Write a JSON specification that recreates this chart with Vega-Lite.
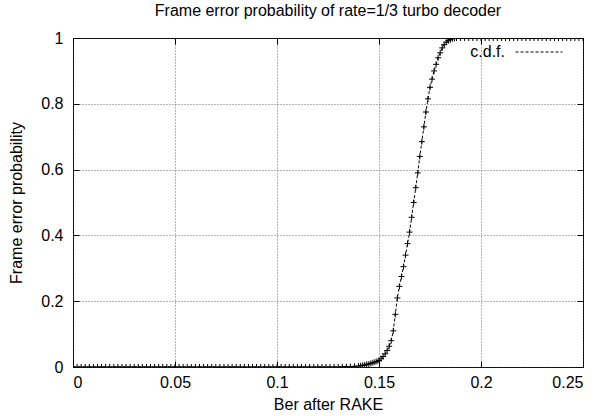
{
  "$schema": "https://vega.github.io/schema/vega-lite/v6.json",
  "width": 510,
  "height": 329,
  "autosize": {"type": "none"},
  "padding": {"left": 73, "top": 38, "right": 14, "bottom": 49},
  "background": "white",
  "title": {"text": "Frame error probability of rate=1/3 turbo decoder", "font": "Liberation Sans", "fontSize": 16, "fontWeight": "normal", "color": "black", "offset": 9, "anchor": "middle"},
  "config": {
    "view": {"stroke": "black", "strokeWidth": 1},
    "axis": {
      "labelFont": "Liberation Sans", "labelFontSize": 16, "labelColor": "black",
      "titleFont": "Liberation Sans", "titleFontSize": 16, "titleFontWeight": "normal", "titleColor": "black",
      "domain": false, "tickColor": "black", "tickSize": -6, "tickWidth": 1,
      "grid": true, "gridColor": "#444", "gridDash": [1, 2], "gridWidth": 0.8
    }
  },
  "resolve": {"axis": {"x": "independent", "y": "independent"}},
  "data": {"values": [
    {"x": 0, "y": 0}, {"x": 0.002, "y": 0}, {"x": 0.004, "y": 0}, {"x": 0.006, "y": 0}, {"x": 0.008, "y": 0},
    {"x": 0.01, "y": 0}, {"x": 0.012, "y": 0}, {"x": 0.014, "y": 0}, {"x": 0.016, "y": 0}, {"x": 0.018, "y": 0},
    {"x": 0.02, "y": 0}, {"x": 0.022, "y": 0}, {"x": 0.024, "y": 0}, {"x": 0.026, "y": 0}, {"x": 0.028, "y": 0},
    {"x": 0.03, "y": 0}, {"x": 0.032, "y": 0}, {"x": 0.034, "y": 0}, {"x": 0.036, "y": 0}, {"x": 0.038, "y": 0},
    {"x": 0.04, "y": 0}, {"x": 0.042, "y": 0}, {"x": 0.044, "y": 0}, {"x": 0.046, "y": 0}, {"x": 0.048, "y": 0},
    {"x": 0.05, "y": 0}, {"x": 0.052, "y": 0}, {"x": 0.054, "y": 0}, {"x": 0.056, "y": 0}, {"x": 0.058, "y": 0},
    {"x": 0.06, "y": 0}, {"x": 0.062, "y": 0}, {"x": 0.064, "y": 0}, {"x": 0.066, "y": 0}, {"x": 0.068, "y": 0},
    {"x": 0.07, "y": 0}, {"x": 0.072, "y": 0}, {"x": 0.074, "y": 0}, {"x": 0.076, "y": 0}, {"x": 0.078, "y": 0},
    {"x": 0.08, "y": 0}, {"x": 0.082, "y": 0}, {"x": 0.084, "y": 0}, {"x": 0.086, "y": 0}, {"x": 0.088, "y": 0},
    {"x": 0.09, "y": 0}, {"x": 0.092, "y": 0}, {"x": 0.094, "y": 0}, {"x": 0.096, "y": 0}, {"x": 0.098, "y": 0},
    {"x": 0.1, "y": 0}, {"x": 0.102, "y": 0}, {"x": 0.104, "y": 0}, {"x": 0.106, "y": 0}, {"x": 0.108, "y": 0},
    {"x": 0.11, "y": 0}, {"x": 0.112, "y": 0}, {"x": 0.114, "y": 0}, {"x": 0.116, "y": 0}, {"x": 0.118, "y": 0},
    {"x": 0.12, "y": 0}, {"x": 0.122, "y": 0}, {"x": 0.124, "y": 0}, {"x": 0.126, "y": 0}, {"x": 0.128, "y": 0},
    {"x": 0.13, "y": 0}, {"x": 0.132, "y": 0.0005}, {"x": 0.134, "y": 0.001}, {"x": 0.136, "y": 0.001}, {"x": 0.138, "y": 0.002},
    {"x": 0.14, "y": 0.003}, {"x": 0.141, "y": 0.004}, {"x": 0.142, "y": 0.005}, {"x": 0.143, "y": 0.006}, {"x": 0.144, "y": 0.008},
    {"x": 0.145, "y": 0.009}, {"x": 0.146, "y": 0.011}, {"x": 0.147, "y": 0.013}, {"x": 0.148, "y": 0.015}, {"x": 0.149, "y": 0.017},
    {"x": 0.15, "y": 0.02}, {"x": 0.151, "y": 0.025}, {"x": 0.152, "y": 0.032}, {"x": 0.153, "y": 0.04}, {"x": 0.154, "y": 0.05},
    {"x": 0.155, "y": 0.063}, {"x": 0.156, "y": 0.08}, {"x": 0.157, "y": 0.11}, {"x": 0.158, "y": 0.16}, {"x": 0.159, "y": 0.21},
    {"x": 0.16, "y": 0.245}, {"x": 0.161, "y": 0.275}, {"x": 0.162, "y": 0.305}, {"x": 0.163, "y": 0.34}, {"x": 0.164, "y": 0.375},
    {"x": 0.165, "y": 0.41}, {"x": 0.166, "y": 0.455}, {"x": 0.167, "y": 0.5}, {"x": 0.168, "y": 0.545}, {"x": 0.169, "y": 0.59},
    {"x": 0.17, "y": 0.64}, {"x": 0.171, "y": 0.685}, {"x": 0.172, "y": 0.73}, {"x": 0.173, "y": 0.775}, {"x": 0.174, "y": 0.815},
    {"x": 0.175, "y": 0.85}, {"x": 0.176, "y": 0.875}, {"x": 0.177, "y": 0.9}, {"x": 0.178, "y": 0.92}, {"x": 0.179, "y": 0.94},
    {"x": 0.18, "y": 0.955}, {"x": 0.181, "y": 0.97}, {"x": 0.182, "y": 0.98}, {"x": 0.183, "y": 0.987}, {"x": 0.184, "y": 0.992},
    {"x": 0.185, "y": 0.995}, {"x": 0.186, "y": 0.998}, {"x": 0.187, "y": 0.999}, {"x": 0.188, "y": 1}, {"x": 0.19, "y": 1},
    {"x": 0.192, "y": 1}, {"x": 0.194, "y": 1}, {"x": 0.196, "y": 1}, {"x": 0.198, "y": 1}, {"x": 0.2, "y": 1},
    {"x": 0.202, "y": 1}, {"x": 0.204, "y": 1}, {"x": 0.206, "y": 1}, {"x": 0.208, "y": 1}, {"x": 0.21, "y": 1},
    {"x": 0.212, "y": 1}, {"x": 0.214, "y": 1}, {"x": 0.216, "y": 1}, {"x": 0.218, "y": 1}, {"x": 0.22, "y": 1},
    {"x": 0.222, "y": 1}, {"x": 0.224, "y": 1}, {"x": 0.226, "y": 1}, {"x": 0.228, "y": 1}, {"x": 0.23, "y": 1},
    {"x": 0.232, "y": 1}, {"x": 0.234, "y": 1}, {"x": 0.236, "y": 1}, {"x": 0.238, "y": 1}, {"x": 0.24, "y": 1},
    {"x": 0.242, "y": 1}, {"x": 0.244, "y": 1}, {"x": 0.246, "y": 1}, {"x": 0.248, "y": 1}, {"x": 0.25, "y": 1}
  ]},
  "layer": [
    {
      "mark": {"type": "line", "strokeDash": [3, 2], "strokeWidth": 1, "clip": true},
      "encoding": {
        "x": {"field": "x", "type": "quantitative", "scale": {"domain": [0, 0.25], "nice": false, "zero": false},
          "axis": {"values": [0, 0.05, 0.1, 0.15, 0.2, 0.25], "format": "~g", "title": "Ber after RAKE", "labelPadding": 13, "titlePadding": 6}},
        "y": {"field": "y", "type": "quantitative", "scale": {"domain": [0, 1], "nice": false},
          "axis": {"values": [0, 0.2, 0.4, 0.6, 0.8, 1], "format": "~g", "title": "Frame error probability", "labelPadding": 16, "titlePadding": 16}},
        "color": {"datum": "c.d.f.", "type": "nominal", "scale": {"range": ["black"]},
          "legend": {"title": null, "orient": "none", "legendX": 442, "legendY": -10, "symbolType": "stroke", "symbolDash": [3, 2], "symbolSize": 2200, "symbolStrokeWidth": 1, "labelFont": "Liberation Sans", "labelFontSize": 16, "labelColor": "black", "labelAlign": "right", "labelOffset": -58}}
      }
    },
    {
      "mark": {"type": "point", "shape": "M-1,0H1M0,-1V1", "size": 36, "filled": false, "color": "black", "strokeWidth": 1, "opacity": 1, "clip": true},
      "encoding": {
        "x": {"field": "x", "type": "quantitative",
          "axis": {"orient": "top", "values": [0, 0.05, 0.1, 0.15, 0.2, 0.25], "labels": false, "title": null, "grid": false}},
        "y": {"field": "y", "type": "quantitative",
          "axis": {"orient": "right", "values": [0, 0.2, 0.4, 0.6, 0.8, 1], "labels": false, "title": null, "grid": false}}
      }
    }
  ]
}
